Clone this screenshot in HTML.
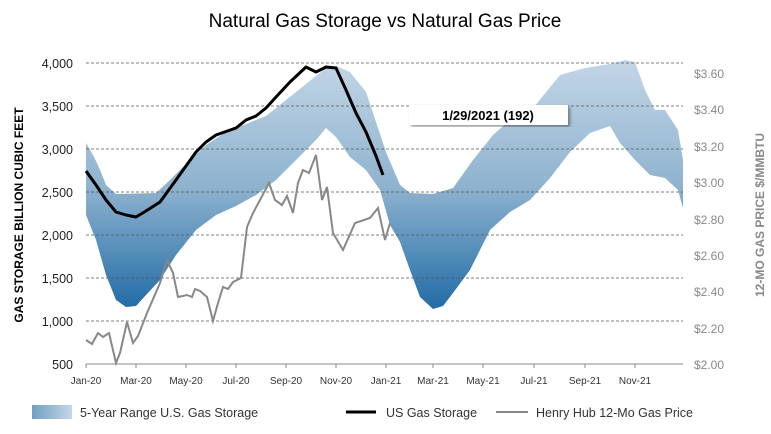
<!DOCTYPE html><html><head><style>body{margin:0;background:#fff}svg{display:block;font-family:"Liberation Sans",sans-serif}</style></head><body>
<svg width="771" height="434" viewBox="0 0 771 434" xmlns="http://www.w3.org/2000/svg">
<defs><linearGradient id="g" x1="0" y1="60" x2="0" y2="312" gradientUnits="userSpaceOnUse"><stop offset="0" stop-color="#c3d6e6"/><stop offset="0.5" stop-color="#8fb3cf"/><stop offset="1" stop-color="#1f6aa5"/></linearGradient>
<linearGradient id="lg" x1="0" y1="0" x2="1" y2="0"><stop offset="0" stop-color="#6f9fc5"/><stop offset="1" stop-color="#c3d6e6"/></linearGradient>
<filter id="sh"><feDropShadow dx="2" dy="2" stdDeviation="1.5" flood-color="#000" flood-opacity="0.4"/></filter></defs>
<text x="385" y="27" font-size="19" text-anchor="middle" font-family="Liberation Sans,sans-serif">Natural Gas Storage vs Natural Gas Price</text>
<path d="M86,143 C90,150 96,158 106,185 L116,194 L156,193 L170,180 L186,164 L206,145 L226,132 L246,124 L266,116 L286,100 L306,84 L326,68 L336,66 L350,72 L366,92 L376,122 L386,152 L400,185 L410,193 L433,194 L453,188 L473,160 L493,135 L510,120 L534,107 L560,75 L585,68 L610,64 L625,60 L635,62 L645,90 L655,110 L665,110 L678,130 L683,160 L683,208 L678,190 L665,178 L650,175 L635,160 L620,143 L610,126 L590,133 L570,152 L550,178 L530,200 L510,212 L490,230 L470,270 L453,293 L443,306 L433,309 L420,297 L410,270 L400,242 L390,225 L380,190 L366,170 L350,157 L336,137 L326,128 L316,140 L296,160 L276,180 L256,195 L236,206 L216,215 L196,230 L176,255 L160,280 L146,295 L136,306 L126,307 L116,300 L106,275 L96,240 L86,215 Z" fill="url(#g)"/>
<g stroke="#555" stroke-width="0.8" stroke-dasharray="3,2">
<line x1="86" y1="63" x2="683" y2="63"/><line x1="86" y1="106" x2="683" y2="106"/><line x1="86" y1="149" x2="683" y2="149"/><line x1="86" y1="192" x2="683" y2="192"/><line x1="86" y1="235" x2="683" y2="235"/><line x1="86" y1="278" x2="683" y2="278"/><line x1="86" y1="321" x2="683" y2="321"/></g>
<line x1="86" y1="364" x2="683" y2="364" stroke="#888"/>
<g stroke="#888"><line x1="86" y1="364" x2="86" y2="368"/><line x1="136" y1="364" x2="136" y2="368"/><line x1="186" y1="364" x2="186" y2="368"/><line x1="236" y1="364" x2="236" y2="368"/><line x1="286" y1="364" x2="286" y2="368"/><line x1="336" y1="364" x2="336" y2="368"/><line x1="386" y1="364" x2="386" y2="368"/><line x1="433" y1="364" x2="433" y2="368"/><line x1="483" y1="364" x2="483" y2="368"/><line x1="534" y1="364" x2="534" y2="368"/><line x1="585" y1="364" x2="585" y2="368"/><line x1="635" y1="364" x2="635" y2="368"/></g>
<polyline fill="none" stroke="#888" stroke-width="2" points="86,340 92,344 98,333 103,337 109,333 116,363 120,353 127,322 133,343 138,336 147,313 160,283 167,260 173,273 178,297 187,295 192,297 195,289 200,291 207,297 213,321 218,303 223,287 228,289 233,282 241,278 247,227 253,213 260,200 269,183 275,200 282,205 287,196 293,213 298,183 303,170 309,173 316,155 322,200 327,187 333,233 343,250 355,223 370,218 378,208 385,240 390,223"/>
<polyline fill="none" stroke="#000" stroke-width="3" stroke-linejoin="round" points="86,171 96,185 106,200 116,212 126,215 136,217 146,211 160,202 176,180 196,152 206,142 216,135 236,128 246,120 256,116 266,108 276,97 290,82 306,67 316,72 326,67 336,68 346,90 356,113 366,132 376,156 383,175"/>
<rect x="409" y="105" width="159" height="20" fill="#fff" filter="url(#sh)"/>
<text x="488" y="120" font-size="13" font-weight="bold" text-anchor="middle">1/29/2021  (192)</text>
<g font-size="12.5" fill="#222" text-anchor="end"><text x="73" y="68">4,000</text><text x="73" y="111">3,500</text><text x="73" y="154">3,000</text><text x="73" y="197">2,500</text><text x="73" y="240">2,000</text><text x="73" y="283">1,500</text><text x="73" y="326">1,000</text><text x="73" y="369">500</text></g>
<g font-size="12" fill="#888"><text x="694" y="78">$3.60</text><text x="694" y="114">$3.40</text><text x="694" y="151">$3.20</text><text x="694" y="187">$3.00</text><text x="694" y="224">$2.80</text><text x="694" y="260">$2.60</text><text x="694" y="296">$2.40</text><text x="694" y="333">$2.20</text><text x="694" y="369">$2.00</text></g>
<g font-size="10" fill="#333" text-anchor="middle"><text x="86" y="384">Jan-20</text><text x="136" y="384">Mar-20</text><text x="186" y="384">May-20</text><text x="236" y="384">Jul-20</text><text x="286" y="384">Sep-20</text><text x="336" y="384">Nov-20</text><text x="386" y="384">Jan-21</text><text x="433" y="384">Mar-21</text><text x="483" y="384">May-21</text><text x="534" y="384">Jul-21</text><text x="585" y="384">Sep-21</text><text x="635" y="384">Nov-21</text></g>
<text transform="translate(23,215) rotate(-90)" font-size="12" font-weight="bold" text-anchor="middle">GAS STORAGE BILLION CUBIC FEET</text>
<text transform="translate(764,215) rotate(-90)" font-size="12" font-weight="bold" fill="#888" text-anchor="middle">12-MO GAS PRICE $/MMBTU</text>
<rect x="32" y="405" width="40" height="14" fill="url(#lg)"/>
<text x="80" y="417" font-size="12.5" fill="#333">5-Year Range U.S. Gas Storage</text>
<line x1="346" y1="412" x2="376" y2="412" stroke="#000" stroke-width="3"/>
<text x="386" y="417" font-size="12.5" fill="#333">US Gas Storage</text>
<line x1="496" y1="412" x2="528" y2="412" stroke="#888" stroke-width="2"/>
<text x="536" y="417" font-size="12.5" fill="#333">Henry Hub 12-Mo Gas Price</text>
</svg></body></html>
